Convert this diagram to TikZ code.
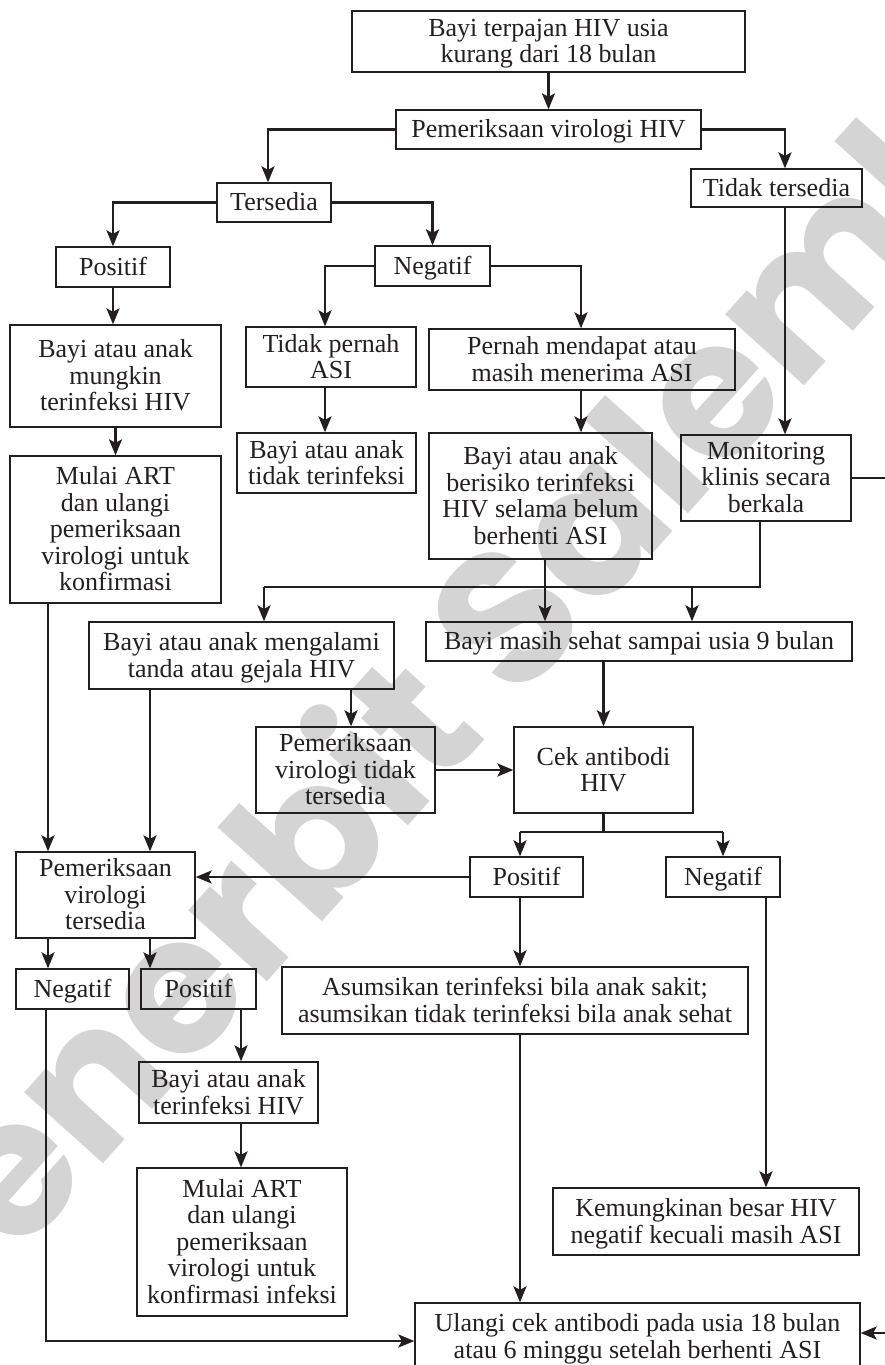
\documentclass[tikz,border=0pt]{standalone}
\usepackage{fontspec}
\setmainfont{Liberation Serif}
\newfontfamily\wmfont{Poppins}
\usetikzlibrary{arrows.meta}
\definecolor{ink}{RGB}{35,31,32}
\definecolor{wmgray}{RGB}{212,212,212}
\newcommand\boxfont{\fontsize{26pt}{26.5pt}\selectfont}
% box from corner (x1,y1) to corner (x2,y2), y running downwards
\newcommand\flowbox[6]{%
  \node[fbox, minimum width={#4-#2}, minimum height={#5-#3}]
    (#1) at ({(#2+#4)/2},{(#3+#5)/2}) {#6};}
\begin{document}
\begin{tikzpicture}[x=1pt,y=-1pt,
  fbox/.style={draw=ink, line width=1.3pt, inner sep=0pt, align=center,
    font=\boxfont, text=ink, text depth=1.5pt},
  link/.style={draw=ink, line width=2.3pt},
  arr/.style={link, -{Stealth[length=16pt,width=13pt,inset=3.5pt]}},
  wmark/.style={text=wmgray, font=\wmfont\bfseries\fontsize{190pt}{190pt}\selectfont}]
\useasboundingbox (0,0) rectangle (885,1365);
\clip (0,0) rectangle (885,1365);

% publisher's mark behind the chart
\node[wmark, rotate=48] (wm) at (465,650) {Penerbit Salemba};

% boxes
\flowbox{top}{352}{11}{745}{72}{Bayi terpajan HIV usia\\kurang dari 18 bulan}
\flowbox{pem}{396}{110}{701}{149}{Pemeriksaan virologi HIV}
\flowbox{tersedia}{217}{183}{331}{222}{Tersedia}
\flowbox{tidak}{691}{169}{862}{207}{Tidak tersedia}
\flowbox{posA}{56}{247}{170}{287}{Positif}
\flowbox{negA}{375}{246}{490}{286}{Negatif}
\flowbox{mungkin}{10}{325}{221}{427}{Bayi atau anak\\mungkin\\terinfeksi HIV}
\flowbox{artA}{10}{456}{221}{603}{Mulai ART\\dan ulangi\\pemeriksaan\\virologi untuk\\konfirmasi}
\flowbox{noasi}{246}{327}{416}{387}{Tidak pernah\\ASI}
\flowbox{tidakinf}{237}{433}{416}{493}{Bayi atau anak\\tidak terinfeksi}
\flowbox{pernah}{429}{329}{735}{390}{Pernah mendapat atau\\masih menerima ASI}
\flowbox{berisiko}{429}{433}{652}{559}{Bayi atau anak\\berisiko terinfeksi\\HIV selama belum\\berhenti ASI}
\flowbox{monitor}{681}{435}{851}{521}{Monitoring\\klinis secara\\berkala}
\flowbox{gejala}{89}{622}{394}{689}{Bayi atau anak mengalami\\tanda atau gejala HIV}
\flowbox{sehat}{426}{622}{852}{661}{Bayi masih sehat sampai usia 9 bulan}
\flowbox{virtidak}{256}{727}{435}{813}{Pemeriksaan\\virologi tidak\\tersedia}
\flowbox{cek}{514}{727}{693}{813}{Cek antibodi\\HIV}
\flowbox{virada}{16}{852}{195}{938}{Pemeriksaan\\virologi\\tersedia}
\flowbox{posB}{470}{857}{583}{897}{Positif}
\flowbox{negB}{666}{857}{780}{897}{Negatif}
\flowbox{negC}{16}{969}{129}{1009}{Negatif}
\flowbox{posC}{141}{969}{256}{1009}{Positif}
\flowbox{asumsi}{282}{967}{748}{1034}{Asumsikan terinfeksi bila anak sakit;\\asumsikan tidak terinfeksi bila anak sehat}
\flowbox{terinf}{139}{1062}{318}{1123}{Bayi atau anak\\terinfeksi HIV}
\flowbox{artB}{137}{1168}{347}{1316}{Mulai ART\\dan ulangi\\pemeriksaan\\virologi untuk\\konfirmasi infeksi}
\flowbox{kemungkinan}{553}{1188}{859}{1255}{Kemungkinan besar HIV\\negatif kecuali masih ASI}
\flowbox{ulangi}{415}{1303}{860}{1370}{Ulangi cek antibodi pada usia 18 bulan\\atau 6 minggu setelah berhenti ASI}

% columns and rows used by the connectors
\coordinate (xTer) at (268,0);
\coordinate (xTid) at (785,0);
\coordinate (xNoAsi) at (325,0);
\coordinate (xPer) at (581,0);
\coordinate (xMon) at (760,0);
\coordinate (xGej) at (264,0);
\coordinate (xSeh) at (692,0);
\coordinate (xBer) at (545,0);
\coordinate (xL) at (48,0);
\coordinate (xM) at (150,0);
\coordinate (xVt) at (351,0);
\coordinate (xPos) at (520,0);
\coordinate (xNeg) at (766,0);
\coordinate (xPosC) at (241,0);
\coordinate (xNegC) at (46,0);
\coordinate (hub) at (0,587);
\coordinate (split) at (0,832);
\coordinate (bottom) at (0,1341);
\coordinate (offR) at (895,478);
\coordinate (inR) at (895,1333);

% connectors
\draw[arr] (top) -- (pem);
\draw[arr] (pem.west) -| (xTer |- tersedia.north);
\draw[arr] (pem.east) -| (xTid |- tidak.north);
\draw[arr] (xTid |- tidak.south) -- (xTid |- monitor.north);
\draw[arr] (tersedia.west) -| (posA.north);
\draw[arr] (tersedia.east) -| (negA.north);
\draw[arr] (negA.west) -| (xNoAsi |- noasi.north);
\draw[arr] (negA.east) -| (xPer |- pernah.north);
\draw[arr] (posA) -- (posA |- mungkin.north);
\draw[arr] (mungkin) -- (artA);
\draw[arr] (xNoAsi |- noasi.south) -- (xNoAsi |- tidakinf.north);
\draw[arr] (xPer |- pernah.south) -- (xPer |- berisiko.north);
\draw[link] (monitor.east) -- (offR);
\draw[link] (xMon |- monitor.south) -- (xMon |- hub) -- (xGej |- hub);
\draw[arr] (xGej |- hub) -- (xGej |- gejala.north);
\draw[arr] (xSeh |- hub) -- (xSeh |- sehat.north);
\draw[arr] (xBer |- berisiko.south) -- (xBer |- sehat.north);
\draw[arr] (xL |- artA.south) -- (xL |- virada.north);
\draw[arr] (xM |- gejala.south) -- (xM |- virada.north);
\draw[arr] (xVt |- gejala.south) -- (xVt |- virtidak.north);
\draw[arr] (sehat.south -| cek.north) -- (cek.north);
\draw[arr] (virtidak.east) -- (virtidak.east -| cek.west);
\draw[link] (cek.south) -- (cek.south |- split);
\draw[link] (xPos |- split) -- (negB.north |- split);
\draw[arr] (xPos |- split) -- (xPos |- posB.north);
\draw[arr] (negB.north |- split) -- (negB.north);
\draw[arr] (posB.west) -- (posB.west -| virada.east);
\draw[arr] (xPos |- posB.south) -- (xPos |- asumsi.north);
\draw[arr] (xPos |- asumsi.south) -- (xPos |- ulangi.north);
\draw[arr] (xNeg |- negB.south) -- (xNeg |- kemungkinan.north);
\draw[arr] (xL |- virada.south) -- (xL |- negC.north);
\draw[arr] (xM |- virada.south) -- (xM |- posC.north);
\draw[arr] (xPosC |- posC.south) -- (xPosC |- terinf.north);
\draw[arr] (xPosC |- terinf.south) -- (xPosC |- artB.north);
\draw[arr] (xNegC |- negC.south) -- (xNegC |- bottom) -- (bottom -| ulangi.west);
\draw[arr] (inR) -- (inR -| ulangi.east);
\end{tikzpicture}
\end{document}
